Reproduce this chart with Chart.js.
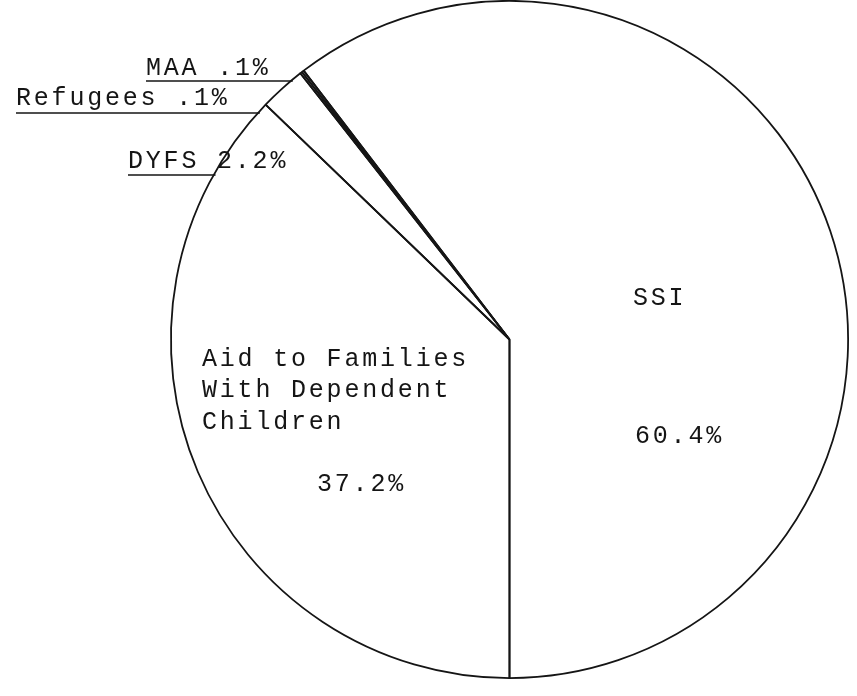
<!DOCTYPE html>
<html>
<head>
<meta charset="utf-8">
<script src="https://cdn.jsdelivr.net/npm/chart.js@4/dist/chart.umd.min.js"></script>
<style>
  html, body { margin: 0; padding: 0; background: #fff; }
  #wrap { width: 857px; height: 696px; position: relative; }
</style>
</head>
<body>
<div id="wrap"><canvas id="pie"></canvas></div>
<script>
// slices in drawing order, clockwise from the bottom
var categories = [["Aid to Families", "With Dependent", "Children"], ["DYFS"], ["Refugees"], ["MAA"], ["SSI"]];
var shares = [37.2, 2.2, 0.1, 0.1, 60.4];
var shareLabels = ["37.2%", "2.2%", ".1%", ".1%", "60.4%"];

var ink = "#151515";
var typeFont = '25px "Courier New", "Liberation Mono", monospace';

function txt(ctx, s, x, y) {
  ctx.fillText(s, x, y);
}

// labels are typed on like the original; small slices get an underline that runs to the rim
var labelPlugin = {
  id: "typedLabels",
  afterDraw: function(chart) {
    var ctx = chart.ctx;
    var arc = chart.getDatasetMeta(0).data[0];
    var cx = arc.x, cy = arc.y, r = arc.outerRadius;
    ctx.save();
    ctx.font = typeFont;
    ctx.letterSpacing = "2.8px";
    ctx.fillStyle = ink;
    ctx.strokeStyle = ink;
    ctx.lineWidth = 1.6;
    ctx.textBaseline = "alphabetic";
    ctx.textAlign = "left";

    // big slices, text inside
    var afdc = categories[0];
    txt(ctx, afdc[0], 202, 366);
    txt(ctx, afdc[1], 202, 397);
    txt(ctx, afdc[2], 202, 429);
    txt(ctx, shareLabels[0], 317, 491);
    txt(ctx, categories[4][0], 633, 305);
    txt(ctx, shareLabels[4], 635, 443);

    // small slices, text outside with underline to the circle
    var outside = [
      { i: 3, x: 146, y: 75, uy: 81 },
      { i: 2, x: 16, y: 105, uy: 113 },
      { i: 1, x: 128, y: 168, uy: 175 }
    ];
    outside.forEach(function(o) {
      txt(ctx, categories[o.i][0] + " " + shareLabels[o.i], o.x, o.y);
      var dy = o.uy - cy;
      var edge = cx - Math.sqrt(Math.max(r * r - dy * dy, 0));
      ctx.beginPath();
      ctx.moveTo(o.x, o.uy);
      ctx.lineTo(edge + 2, o.uy);
      ctx.stroke();
    });
    ctx.restore();
  }
};

new Chart(document.getElementById("pie"), {
  type: "pie",
  plugins: [labelPlugin],
  data: {
    labels: categories.map(function(c) { return c.join(" "); }),
    datasets: [{
      data: shares,
      backgroundColor: "rgba(255,255,255,0)",
      borderColor: ink,
      borderWidth: 1.8
    }]
  },
  options: {
    responsive: true,
    maintainAspectRatio: false,
    animation: false,
    rotation: 180,
    layout: { padding: { left: 170, right: 8, top: 0, bottom: 17 } },
    plugins: {
      legend: { display: false },
      tooltip: { enabled: false }
    }
  }
});
</script>
</body>
</html>
